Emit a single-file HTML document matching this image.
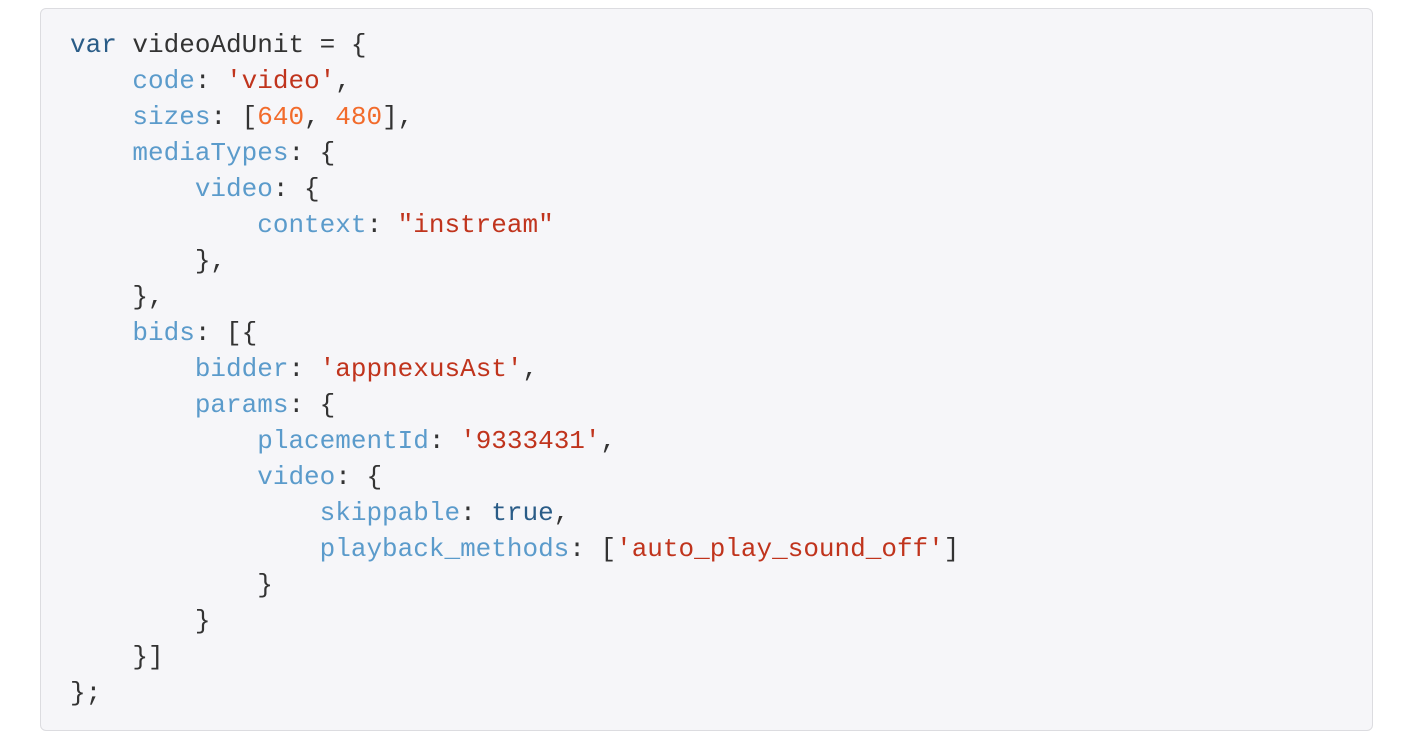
<!DOCTYPE html>
<html><head><meta charset="utf-8"><style>
html,body{margin:0;padding:0;background:#fff;width:1402px;height:740px;overflow:hidden}
.box{position:absolute;left:40px;top:8px;width:1331px;height:721px;background:#f6f6f9;border:1px solid #dcdce0;border-radius:6px}
pre{position:absolute;left:29px;top:18px;margin:0;font-family:"Liberation Mono","DejaVu Sans Mono",monospace;font-size:26px;line-height:36px;color:#333}
.k{color:#2a5c87}.p{color:#5b9bcb}.s{color:#c0341d}.n{color:#f26b2b}
</style></head><body><div class="box"><pre><span class="k">var</span> videoAdUnit = {
    <span class="p">code</span>: <span class="s">'video'</span>,
    <span class="p">sizes</span>: [<span class="n">640</span>, <span class="n">480</span>],
    <span class="p">mediaTypes</span>: {
        <span class="p">video</span>: {
            <span class="p">context</span>: <span class="s">"instream"</span>
        },
    },
    <span class="p">bids</span>: [{
        <span class="p">bidder</span>: <span class="s">'appnexusAst'</span>,
        <span class="p">params</span>: {
            <span class="p">placementId</span>: <span class="s">'9333431'</span>,
            <span class="p">video</span>: {
                <span class="p">skippable</span>: <span class="k">true</span>,
                <span class="p">playback_methods</span>: [<span class="s">'auto_play_sound_off'</span>]
            }
        }
    }]
};</pre></div></body></html>
